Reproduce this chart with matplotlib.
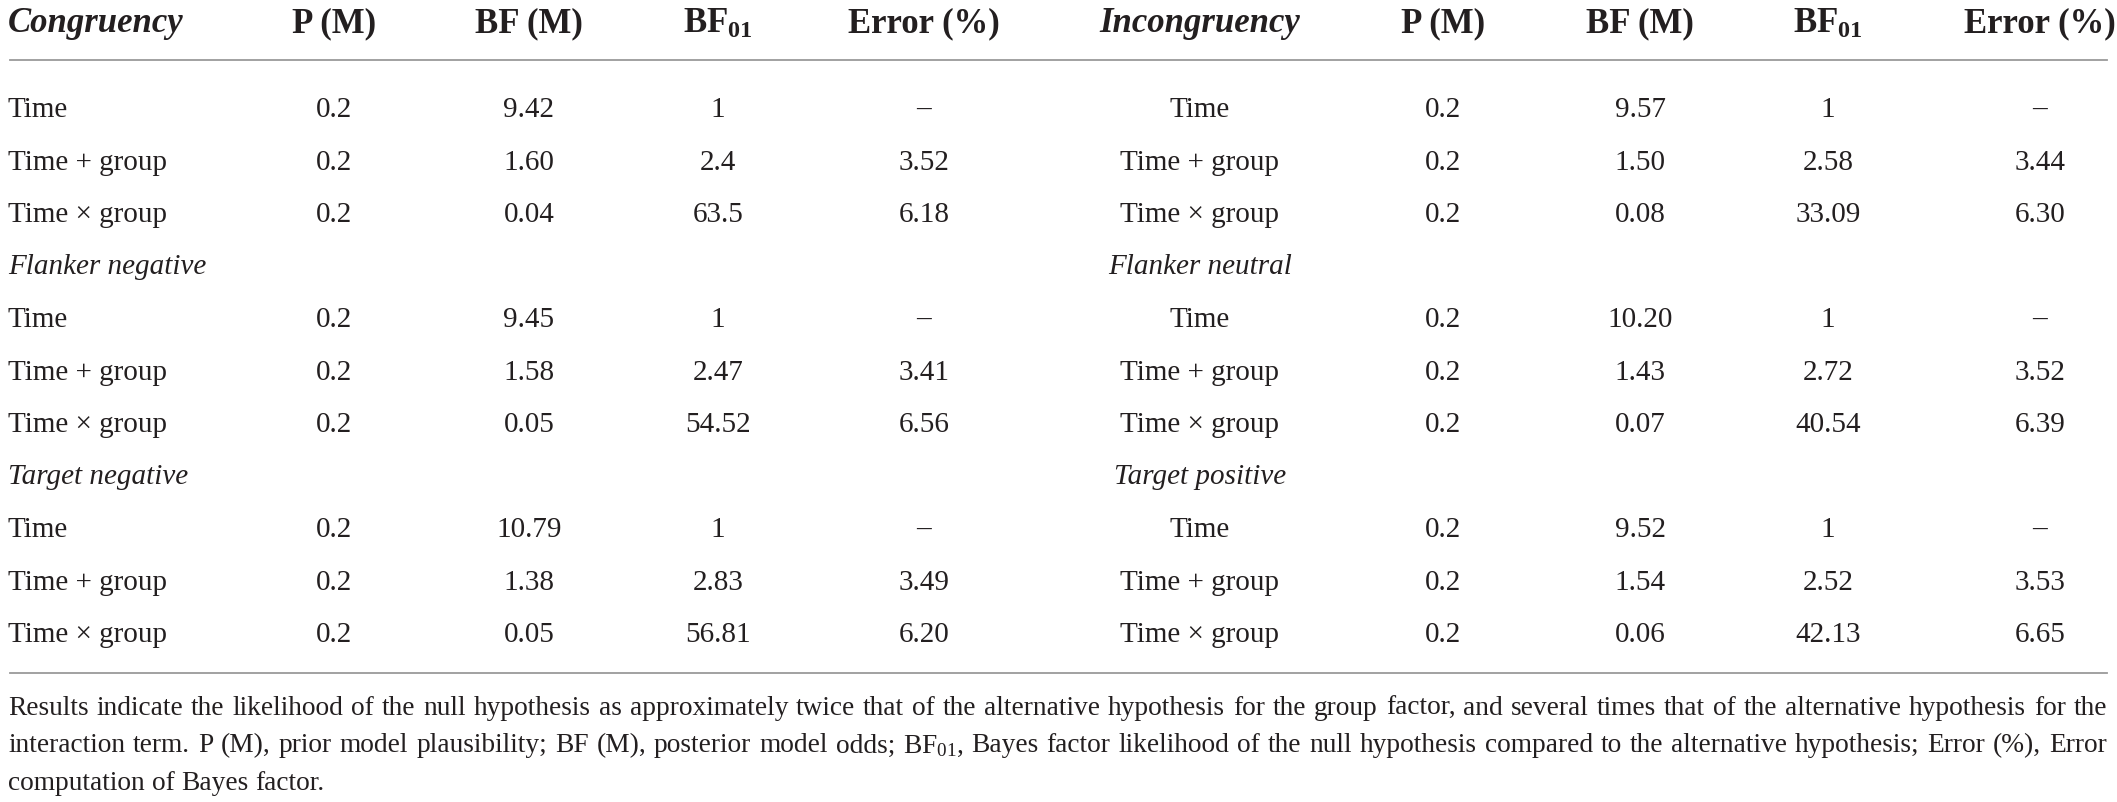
import matplotlib
matplotlib.use("Agg")
import matplotlib.pyplot as plt

plt.rcParams['font.family'] = ['Liberation Serif', 'DejaVu Serif']
plt.rcParams['mathtext.fontset'] = 'custom'
plt.rcParams['mathtext.rm'] = 'Liberation Serif'
plt.rcParams['mathtext.it'] = 'Liberation Serif:italic'
plt.rcParams['mathtext.bf'] = 'Liberation Serif:bold'

# table content
columns = ["P (M)", "BF (M)", r"BF$_{\mathbf{01}}$", "Error (%)"]
left_title = "Congruency"
right_title = "Incongruency"
left_sections = ["Flanker negative", "Target negative"]
right_sections = ["Flanker neutral", "Target positive"]
models = ["Time", "Time + group", "Time \u00d7 group"]

left_p = ["0.2"] * 9
left_bf = ["9.42", "1.60", "0.04", "9.45", "1.58", "0.05", "10.79", "1.38", "0.05"]
left_bf01 = ["1", "2.4", "63.5", "1", "2.47", "54.52", "1", "2.83", "56.81"]
left_err = ["\u2013", "3.52", "6.18", "\u2013", "3.41", "6.56", "\u2013", "3.49", "6.20"]

right_p = ["0.2"] * 9
right_bf = ["9.57", "1.50", "0.08", "10.20", "1.43", "0.07", "9.52", "1.54", "0.06"]
right_bf01 = ["1", "2.58", "33.09", "1", "2.72", "40.54", "1", "2.52", "42.13"]
right_err = ["\u2013", "3.44", "6.30", "\u2013", "3.52", "6.39", "\u2013", "3.53", "6.65"]

footnote = [
    "Results indicate the likelihood of the null hypothesis as approximately twice that of the alternative "
    "hypothesis for the group factor, and several times that of the alternative hypothesis for the",
    "interaction term. P (M), prior model plausibility; BF (M), posterior model odds; BF$_{01}$, Bayes factor "
    "likelihood of the null hypothesis compared to the alternative hypothesis; Error (%), Error",
    "computation of Bayes factor.",
]

W, H = 2117, 802
ink = "#231f20"
rule = "#9a9a9a"
body = 21
head = 25

fig = plt.figure(figsize=(W / 100, H / 100), dpi=100)
ax = fig.add_axes([0, 0, 1, 1])
ax.set_xlim(0, W)
ax.set_ylim(H, 0)
ax.axis("off")

left_x = [334, 529, 718, 924]
right_x = [1443, 1640, 1828, 2040]
left_label_x = 8
right_label_x = 1200
y_head = 24
y0 = 110
dy = 52.5

# header
ax.text(left_label_x, y_head, left_title, fontsize=head, fontweight="bold", style="italic",
        color=ink, ha="left", va="center")
ax.text(right_label_x, y_head, right_title, fontsize=head, fontweight="bold", style="italic",
        color=ink, ha="center", va="center")
for xs in (left_x, right_x):
    for x, c in zip(xs, columns):
        ax.text(x, y_head, c, fontsize=head, fontweight="bold", color=ink, ha="center", va="center")

ax.plot([10, 2107], [60, 60], color=rule, lw=1.3)
ax.plot([10, 2107], [673, 673], color=rule, lw=1.3)


def draw_side(label_x, ha, xs, sections, cols):
    row = 0
    k = 0
    for block in range(3):
        if block > 0:
            ax.text(label_x, y0 + dy * row, sections[block - 1], fontsize=body, style="italic",
                    color=ink, ha=ha, va="center")
            row += 1
        for m in models:
            y = y0 + dy * row
            ax.text(label_x, y, m, fontsize=body, color=ink, ha=ha, va="center")
            for x, col in zip(xs, cols):
                ax.text(x, y, col[k], fontsize=body, color=ink, ha="center", va="center")
            row += 1
            k += 1


draw_side(left_label_x, "left", left_x, left_sections, [left_p, left_bf, left_bf01, left_err])
draw_side(right_label_x, "center", right_x, right_sections, [right_p, right_bf, right_bf01, right_err])

# footnote, justified lines; size fitted so the first line just fills the width
renderer = fig.canvas.get_renderer()
px_per_unit = fig.bbox.width / W
note_base = [715, 752.5, 790]
x_start, x_end = 8, 2107
probe = ax.text(0, 0, footnote[0], fontsize=18)
natural = probe.get_window_extent(renderer).width / px_per_unit
probe.remove()
note = 18 * (x_end - x_start) / natural * 0.985

for i, line in enumerate(footnote):
    words = line.split(" ")
    objs = [ax.text(0, note_base[i], w, fontsize=note, color=ink, ha="left", va="baseline")
            for w in words]
    widths = [o.get_window_extent(renderer).width / px_per_unit for o in objs]
    if i < len(footnote) - 1:
        gap = (x_end - x_start - sum(widths)) / (len(words) - 1)
    else:
        sp = ax.text(0, 0, "a a", fontsize=note)
        sa = ax.text(0, 0, "aa", fontsize=note)
        gap = (sp.get_window_extent(renderer).width - sa.get_window_extent(renderer).width) / px_per_unit
        sp.remove()
        sa.remove()
    x = x_start
    for o, w in zip(objs, widths):
        o.set_x(x)
        x += w + gap

fig.savefig("out.png", dpi=100, facecolor="white")
